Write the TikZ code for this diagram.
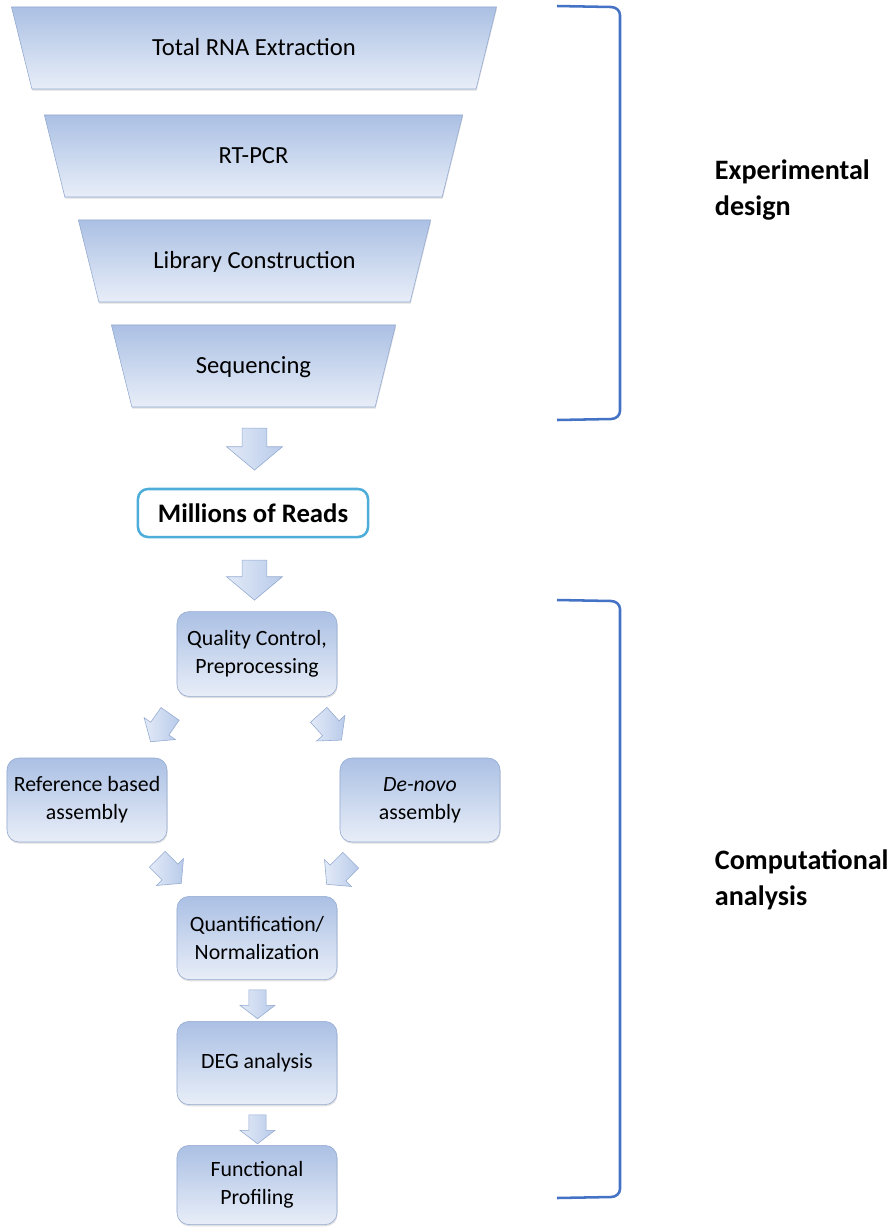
\documentclass[tikz,border=0pt]{standalone}
\usepackage{fontspec}
\setmainfont{Carlito}
\usetikzlibrary{shapes.geometric, shapes.arrows, shadows}
\definecolor{box-top}{HTML}{ABC0E4}
\definecolor{box-bottom}{HTML}{E8EEF8}
\definecolor{box-line}{HTML}{93A9D1}
\definecolor{reads-line}{HTML}{4EADD9}
\definecolor{bracket-blue}{HTML}{4472C4}
\definecolor{arrow-tail}{HTML}{E2EAF7}
\definecolor{arrow-tip}{HTML}{B9CBEA}

\begin{document}
\begin{tikzpicture}[x=0.025cm, y=-0.025cm,
      softshadow/.style={drop shadow={opacity=0.25, shadow xshift=0.4pt, shadow yshift=-1.2pt}},
      funnelbox/.style={trapezium, shape border rotate=180, trapezium angle=76,
          draw=box-line, top color=box-top, bottom color=box-bottom,
          softshadow, inner sep=0pt, align=flush center, text height=1.21cm,
          text depth=0.84cm, font=\fontsize{17.5}{20}\selectfont},
      flowbox/.style={draw=box-line, rounded corners=0.3cm, top color=box-top,
          bottom color=box-bottom, softshadow, minimum width=4.0cm,
          align=center, font=\fontsize{15.5}{20}\selectfont},
      bigarrow/.style={single arrow, rotate=-90, draw=box-line, left color=arrow-tail,
          right color=arrow-tip, inner xsep=0pt, inner ysep=0.3cm,
          single arrow head extend=0.39cm, single arrow tip angle=100,
          minimum height=1.05cm},
      smallarrow/.style={single arrow, draw=box-line, left color=arrow-tail,
          right color=arrow-tip, inner xsep=0pt, inner ysep=0.21cm,
          single arrow head extend=0.22cm, single arrow tip angle=105,
          minimum height=0.72cm},
      diagarrow/.style={smallarrow, inner ysep=0.27cm, single arrow head extend=0.2cm,
          single arrow tip angle=100, minimum height=0.85cm},
      bracketline/.style={draw=bracket-blue, line width=1.8pt},
      sidelabel/.style={anchor=west, align=left,
          font=\bfseries\fontsize{20}{26}\selectfont}]
    \useasboundingbox (0,0) rectangle (896,1232);

    % experimental part
    \node[funnelbox, text width=11.1cm] (extract) at (254,48) {Total RNA Extraction};
    \node[funnelbox, text width=9.43cm] (rtpcr) at (253.5,156) {RT-PCR};
    \node[funnelbox, text width=7.78cm] (library) at (254.5,261) {Library Construction};
    \node[funnelbox, text width=6.08cm] (sequencing) at (253.5,366) {Sequencing};

    \node[bigarrow] (arrowA) at (254.5,444) {};
    \node[draw=reads-line, line width=1.8pt, fill=white, rounded corners=0.25cm,
          minimum width=5.75cm, minimum height=1.2cm,
          font=\bfseries\fontsize{19}{22}\selectfont] (reads) at (253,513)
          {Millions of Reads};
    \node[bigarrow, minimum height=1.0cm] (arrowB) at (254.5,575) {};

    % computational part
    \node[flowbox, minimum height=2.12cm] (quality) at (257,654)
          {Quality Control,\\Preprocessing};
    \node[diagarrow, rotate=235] (diagA) at (163,724) {};
    \node[diagarrow, rotate=-48] (diagB) at (327,724) {};
    \node[flowbox, minimum height=2.1cm] (refbased) at (87,800)
          {Reference based\\assembly};
    \node[flowbox, minimum height=2.1cm] (denovo) at (420,800)
          {\textit{De-novo}\\assembly};
    \node[diagarrow, rotate=-45] (diagC) at (166,868) {};
    \node[diagarrow, rotate=225] (diagD) at (342,869) {};
    \node[flowbox, minimum height=2.08cm] (quant) at (257,938)
          {Quantification/\\Normalization};
    \node[smallarrow, rotate=-90] (arrowC) at (257.5,1001) {};
    \node[flowbox, minimum height=2.08cm] (deg) at (257,1063)
          {DEG analysis};
    \node[smallarrow, rotate=-90] (arrowD) at (257.5,1126) {};
    \node[flowbox, minimum height=1.98cm] (functional) at (257,1185)
          {Functional\\Profiling};

    % brackets and labels
    \draw[bracketline] (557,6) -- (611,7) to[out=0, in=90] (620,15) -- (620,411)
          to[out=-90, in=0] (611,419) -- (557,420);
    \draw[bracketline] (557,600) -- (611,601) to[out=0, in=90] (620,609) -- (620,1189)
          to[out=-90, in=0] (611,1197) -- (557,1198);
    \node[sidelabel] (expdesign) at (710,190) {Experimental\\design};
    \node[sidelabel] (companalysis) at (710,880) {Computational\\analysis};
\end{tikzpicture}
\end{document}
